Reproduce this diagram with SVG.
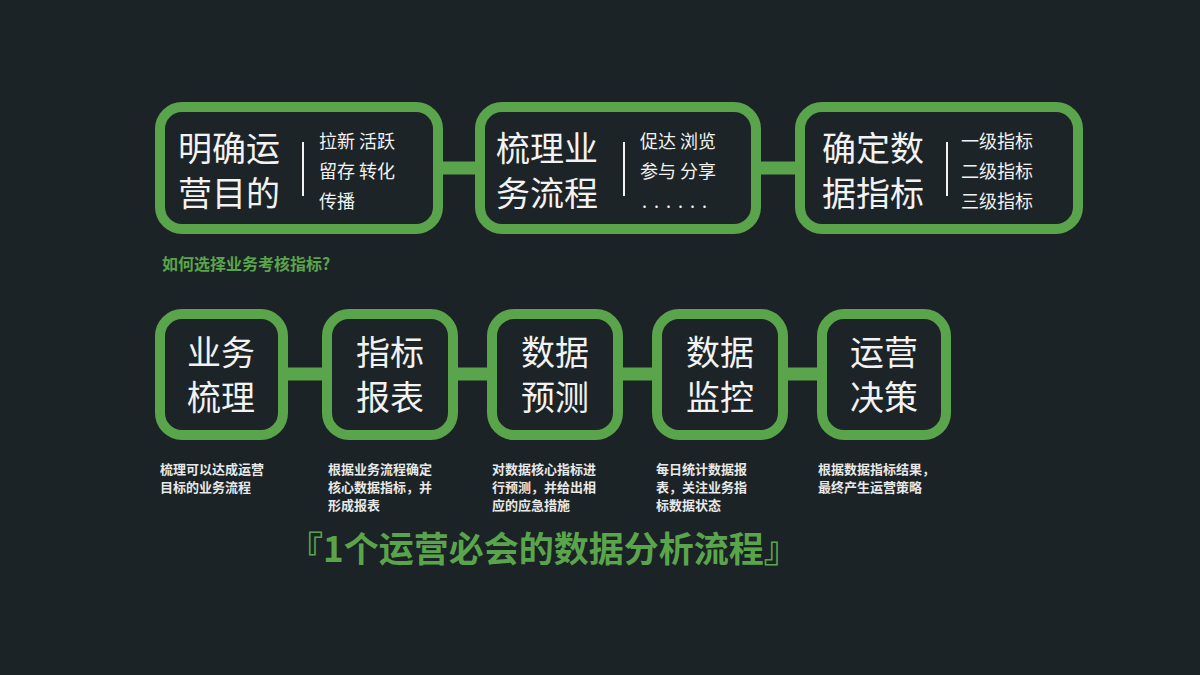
<svg xmlns="http://www.w3.org/2000/svg" width="1200" height="675" viewBox="0 0 1200 675">
<style>
text{font-family:"Noto Sans CJK SC","Noto Sans",sans-serif;fill:#f2f2f2}
.box{fill:#1c2427;stroke:#5aa54b;stroke-width:10}
.big{font-size:34px}
.sm{font-size:18px}
.note{font-size:13px;font-weight:bold;fill:#e8e8e8}
.con{stroke:#5aa54b;stroke-width:13}
.bar{stroke:#f2f2f2;stroke-width:2}
</style>
<rect width="1200" height="675" fill="#1b2326"/>
<g id="connectors">
<line class="con" x1="440" y1="168" x2="480" y2="168"/>
<line class="con" x1="758" y1="168" x2="800" y2="168"/>
<line class="con" x1="285" y1="374" x2="327" y2="374"/>
<line class="con" x1="453" y1="374" x2="492" y2="374"/>
<line class="con" x1="618" y1="374" x2="657" y2="374"/>
<line class="con" x1="783" y1="374" x2="822" y2="374"/>
</g>
<g id="n1"><rect class="box" x="160" y="107" width="278" height="122" rx="22"/>
<text class="big" x="178" y="161">明确运</text><text class="big" x="178" y="206">营目的</text>
<line class="bar" x1="303" y1="142" x2="303" y2="196"/>
<text class="sm" x="319" y="148">拉新  活跃</text><text class="sm" x="319" y="178">留存  转化</text><text class="sm" x="319" y="208">传播</text></g>
<g id="n2"><rect class="box" x="480" y="107" width="276" height="122" rx="22"/>
<text class="big" x="496" y="161">梳理业</text><text class="big" x="496" y="206">务流程</text>
<line class="bar" x1="624" y1="142" x2="624" y2="196"/>
<text class="sm" x="640" y="148">促达  浏览</text><text class="sm" x="640" y="178">参与  分享</text><text class="sm" x="642" y="208" letter-spacing="7">......</text></g>
<g id="n3"><rect class="box" x="800" y="107" width="278" height="122" rx="22"/>
<text class="big" x="822" y="161">确定数</text><text class="big" x="822" y="206">据指标</text>
<line class="bar" x1="947" y1="142" x2="947" y2="196"/>
<text class="sm" x="961" y="148">一级指标</text><text class="sm" x="961" y="178">二级指标</text><text class="sm" x="961" y="208">三级指标</text></g>
<text x="162" y="270" style="font-size:16px;font-weight:bold;fill:#5aa54b">如何选择业务考核指标?</text>
<g id="b1"><rect class="box" x="160" y="314" width="123" height="121" rx="22"/><text class="big" x="221" y="365" text-anchor="middle">业务</text><text class="big" x="221" y="410" text-anchor="middle">梳理</text></g>
<g id="b2"><rect class="box" x="327" y="314" width="126" height="121" rx="22"/><text class="big" x="390" y="365" text-anchor="middle">指标</text><text class="big" x="390" y="410" text-anchor="middle">报表</text></g>
<g id="b3"><rect class="box" x="492" y="314" width="126" height="121" rx="22"/><text class="big" x="555" y="365" text-anchor="middle">数据</text><text class="big" x="555" y="410" text-anchor="middle">预测</text></g>
<g id="b4"><rect class="box" x="657" y="314" width="126" height="121" rx="22"/><text class="big" x="720" y="365" text-anchor="middle">数据</text><text class="big" x="720" y="410" text-anchor="middle">监控</text></g>
<g id="b5"><rect class="box" x="822" y="314" width="124" height="121" rx="22"/><text class="big" x="884" y="365" text-anchor="middle">运营</text><text class="big" x="884" y="410" text-anchor="middle">决策</text></g>
<text class="note" x="160" y="474">梳理可以达成运营</text><text class="note" x="160" y="492">目标的业务流程</text>
<text class="note" x="328" y="474">根据业务流程确定</text><text class="note" x="328" y="492">核心数据指标，并</text><text class="note" x="328" y="510">形成报表</text>
<text class="note" x="492" y="474">对数据核心指标进</text><text class="note" x="492" y="492">行预测，并给出相</text><text class="note" x="492" y="510">应的应急措施</text>
<text class="note" x="656" y="474">每日统计数据报</text><text class="note" x="656" y="492">表，关注业务指</text><text class="note" x="656" y="510">标数据状态</text>
<text class="note" x="818" y="474">根据数据指标结果，</text><text class="note" x="818" y="492">最终产生运营策略</text>
<text x="288" y="562" style="font-size:35px;font-weight:bold;fill:#5aa54b">『1个运营必会的数据分析流程』</text>
</svg>
